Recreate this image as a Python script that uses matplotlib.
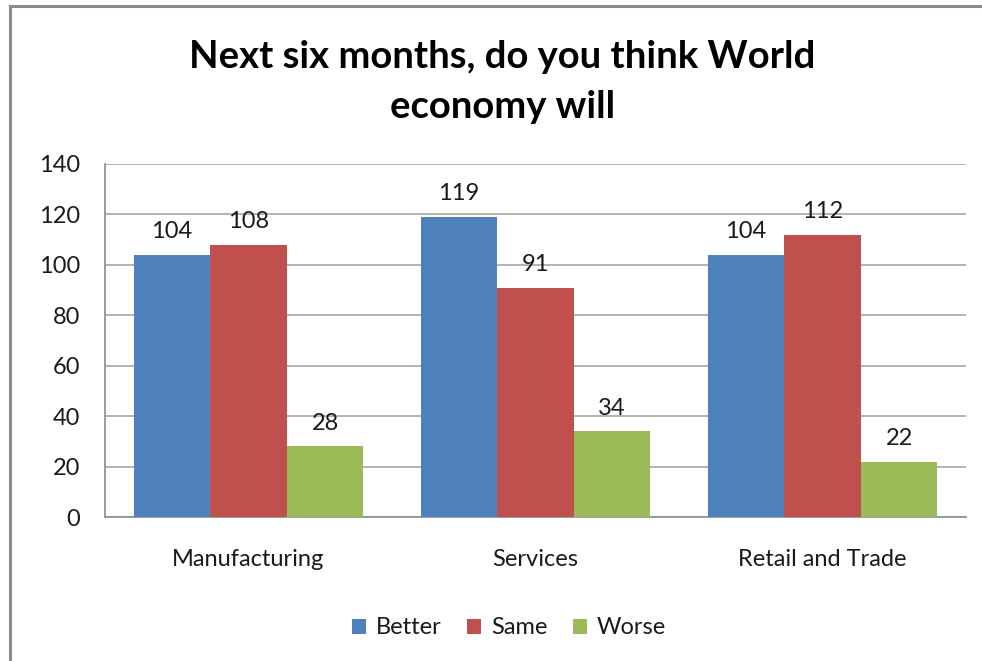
import matplotlib
matplotlib.use("Agg")
import matplotlib.pyplot as plt
from matplotlib.patches import Patch
from matplotlib.lines import Line2D
import numpy as np

plt.rcParams['font.family'] = ['Lato', 'DejaVu Sans']

categories = ["Manufacturing", "Services", "Retail and Trade"]
series_names = ["Better", "Same", "Worse"]
better = [104, 119, 104]
same = [108, 91, 112]
worse = [28, 34, 22]
y_ticks = [0, 20, 40, 60, 80, 100, 120, 140]

colors = ["#4F81BD", "#C0504D", "#9BBB59"]
text_color = "#1a1a1a"

W, H = 982, 661
fig = plt.figure(figsize=(W / 100, H / 100), dpi=100)

# outer chart frame (top and left edges)
fig.add_artist(Line2D([10 / W, 10 / W], [0, 1 - 6 / H], transform=fig.transFigure,
                      color="#8c8c8c", lw=2.2))
fig.add_artist(Line2D([10 / W, 1], [1 - 6 / H, 1 - 6 / H], transform=fig.transFigure,
                      color="#8c8c8c", lw=2.2))

ax = fig.add_axes([105 / W, (H - 517) / H, (966 - 105) / W, (517 - 164) / H])

x = np.arange(len(categories))
bw = 1 / 3.75
all_series = [better, same, worse]
for i, (vals, col, name) in enumerate(zip(all_series, colors, series_names)):
    pos = x + (i - 1) * bw
    ax.bar(pos, vals, width=bw, color=col, edgecolor='none', zorder=3, label=name)
    for p, v in zip(pos, vals):
        ax.annotate(str(v), (p, v), xytext=(0, 9), textcoords='offset points',
                    ha='center', va='bottom', fontsize=17, color=text_color)

ax.set_xlim(-0.5, 2.5)
ax.set_ylim(0, 140)
ax.set_yticks(y_ticks)
ax.set_xticks(x)
ax.set_xticklabels(categories)
ax.yaxis.grid(True, color="#a6a6a6", lw=1.2, zorder=0)
ax.set_axisbelow(True)
for s in ['top', 'right']:
    ax.spines[s].set_visible(False)
for s in ['left', 'bottom']:
    ax.spines[s].set_color("#8c8c8c")
    ax.spines[s].set_linewidth(1.2)
ax.tick_params(axis='y', length=0, pad=18, labelsize=17, labelcolor=text_color)
ax.tick_params(axis='x', length=0, pad=23, labelsize=17, labelcolor=text_color)

fig.text(502 / W, 1 - 68 / H, "Next six months, do you think World", ha='center',
         va='baseline', fontsize=27.5, fontweight='bold', color='black')
fig.text(503 / W, 1 - 118 / H, "economy will", ha='center',
         va='baseline', fontsize=27.5, fontweight='bold', color='black')

handles = [Patch(facecolor=c, edgecolor='none', label=n) for c, n in zip(colors, series_names)]
fig.legend(handles=handles, loc='center', bbox_to_anchor=(509 / W, 1 - 628 / H), ncol=3,
           frameon=False, fontsize=17, handlelength=0.6, handleheight=0.6,
           handletextpad=0.4, columnspacing=1.1, labelcolor=text_color)

fig.savefig("out.png", dpi=100)
